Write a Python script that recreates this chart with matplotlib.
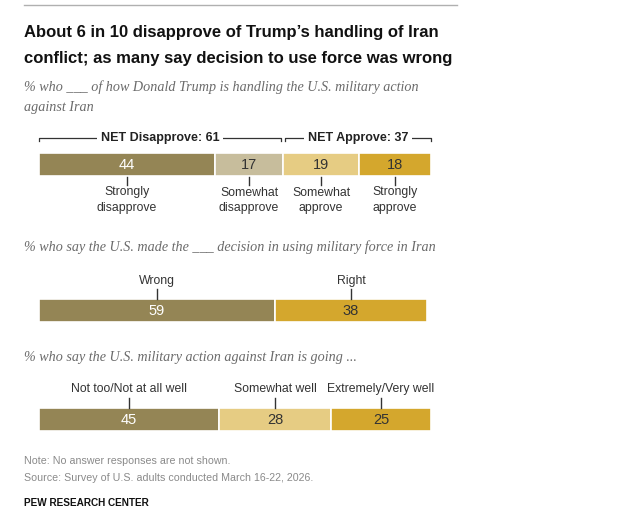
import matplotlib
matplotlib.use("Agg")
import matplotlib.pyplot as plt
import numpy as np

plt.rcParams["font.family"] = ["Liberation Sans", "DejaVu Sans"]

# --- data ---
handling_labels = ["Strongly\ndisapprove", "Somewhat\ndisapprove", "Somewhat\napprove", "Strongly\napprove"]
handling_vals = [44, 17, 19, 18]
handling_colors = ["#948555", "#c7bd9c", "#e6cc83", "#d4a72d"]
net_labels = ["NET Disapprove: 61", "NET Approve: 37"]
net_vals = [61, 37]

decision_labels = ["Wrong", "Right"]
decision_vals = [59, 38]
decision_colors = ["#948555", "#d4a72d"]

going_labels = ["Not too/Not at all well", "Somewhat well", "Extremely/Very well"]
going_vals = [45, 28, 25]
going_colors = ["#948555", "#e6cc83", "#d4a72d"]

W, H = 620, 528
X0, SCALE = 39, 4.0  # bar origin in px, px per percentage point
LABEL_FS = 8.8

fig = plt.figure(figsize=(W / 100, H / 100), dpi=100)
ax = fig.add_axes([0, 0, 1, 1])
ax.set_xlim(-X0 / SCALE, (W - X0) / SCALE)
ax.set_ylim(H, 0)
ax.axis("off")


def ftext(x, y, s, **kw):
    fig.text(x / W, 1 - y / H, s, **kw)


def stacked(yc, vals, colors, bar_h=23):
    vals = np.asarray(vals, dtype=float)
    lefts = np.concatenate([[0], np.cumsum(vals)[:-1]])
    ax.barh(yc, vals, left=lefts, height=bar_h, color=colors,
            edgecolor="white", linewidth=1.2)
    for v, l, c in zip(vals, lefts, colors):
        tc = "white" if c == "#948555" else "#333333"
        ax.text(l + v / 2, yc + 0.5, f"{v:.0f}", ha="center", va="center",
                fontsize=10.5, color=tc)
    return lefts + vals / 2


# top rule + title
ax.plot([-15 / SCALE, (457 - X0) / SCALE], [5, 5], color="#b0b0b0", lw=1)
ftext(24, 33, "About 6 in 10 disapprove of Trump\u2019s handling of Iran",
      fontsize=12, fontweight="bold", color="#111111", va="center")
ftext(24, 58, "conflict; as many say decision to use force was wrong",
      fontsize=12, fontweight="bold", color="#111111", va="center")

serif = dict(family=["Liberation Serif", "DejaVu Serif"], style="italic",
             fontsize=10.2, color="#6b6b6b", va="center")
ftext(24, 87, "% who ___ of how Donald Trump is handling the U.S. military action", **serif)
ftext(24, 107, "against Iran", **serif)

# chart 1: handling
net_starts = [0, net_vals[0] + 0.5]
for lab, start, v in zip(net_labels, net_starts, net_vals):
    a, b = start, start + v - 0.5
    ax.plot([a, a, b, b], [141, 138, 138, 141], color="#333333", lw=0.9)
    ax.text((a + b) / 2, 138, lab, ha="center", va="center", fontsize=9,
            fontweight="bold", color="#222222",
            bbox=dict(boxstyle="square,pad=0.3", fc="white", ec="none"))

centers = stacked(164.5, handling_vals, handling_colors)
for cx, lab in zip(centers, handling_labels):
    ax.plot([cx, cx], [176.5, 185], color="#333333", lw=1)
    ax.text(cx, 186.5, lab, ha="center", va="top", fontsize=LABEL_FS,
            color="#333333", linespacing=1.35)

# chart 2: decision
ftext(24, 247, "% who say the U.S. made the ___ decision in using military force in Iran", **serif)
centers = stacked(310.5, decision_vals, decision_colors)
for cx, lab in zip(centers, decision_labels):
    ax.plot([cx, cx], [289, 298.5], color="#333333", lw=1)
    ax.text(cx, 281, lab, ha="center", va="center", fontsize=LABEL_FS, color="#333333")

# chart 3: going
ftext(24, 357, "% who say the U.S. military action against Iran is going ...", **serif)
centers = stacked(419, going_vals, going_colors)
for cx, lab in zip(centers, going_labels):
    ax.plot([cx, cx], [398, 407.5], color="#333333", lw=1)
    ax.text(cx, 389, lab, ha="center", va="center", fontsize=LABEL_FS, color="#333333")

# notes
ftext(24, 461, "Note: No answer responses are not shown.", fontsize=7.7, color="#8a8a8a", va="center")
ftext(24, 478, "Source: Survey of U.S. adults conducted March 16-22, 2026.", fontsize=7.7,
      color="#8a8a8a", va="center")
ftext(24, 503, "PEW RESEARCH CENTER", fontsize=7.2, fontweight="bold", color="#111111", va="center")

fig.savefig("out.png", dpi=100)
